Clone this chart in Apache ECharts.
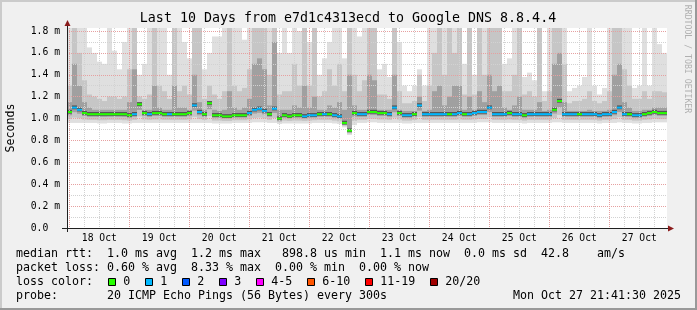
<!DOCTYPE html>
<html><head><meta charset="utf-8">
<script src="https://cdn.jsdelivr.net/npm/echarts@6/dist/echarts.min.js"></script>
<style>html,body{margin:0;padding:0;background:#f0f0f0;}#c{width:697px;height:310px;}</style>
</head><body><div id="c"></div>
<script>
// ---- data ----
const firstBinHour = -0.92;   // hours after 18 Oct 00:00 where the first 2-hour bin starts
const binHours = 2;
const dayLabels = ['18 Oct','19 Oct','20 Oct','21 Oct','22 Oct','23 Oct','24 Oct','25 Oct','26 Oct','27 Oct'];
const yTickLabels = ['0.0  ','0.2 m','0.4 m','0.6 m','0.8 m','1.0 m','1.2 m','1.4 m','1.6 m','1.8 m'];
// median rtt (ms) per bin
const median = [
1.06,1.10,1.08,1.05,1.04,1.04,1.04,1.04,1.04,1.04,
1.04,1.04,1.03,1.04,1.13,1.05,1.04,1.05,1.05,1.04,
1.04,1.04,1.04,1.04,1.05,1.12,1.06,1.04,1.14,1.03,
1.03,1.02,1.02,1.03,1.03,1.03,1.05,1.08,1.09,1.07,
1.04,1.09,1.00,1.03,1.02,1.03,1.03,1.02,1.03,1.03,
1.04,1.04,1.04,1.03,1.02,0.96,0.89,1.05,1.04,1.04,
1.06,1.06,1.05,1.05,1.04,1.10,1.05,1.03,1.03,1.04,
1.12,1.04,1.04,1.04,1.04,1.04,1.04,1.04,1.05,1.04,
1.04,1.05,1.06,1.06,1.10,1.04,1.04,1.04,1.05,1.04,
1.04,1.03,1.04,1.04,1.04,1.04,1.04,1.08,1.16,1.04,
1.04,1.04,1.04,1.04,1.04,1.04,1.03,1.04,1.04,1.06,
1.10,1.04,1.04,1.03,1.03,1.04,1.05,1.06,1.05,1.05];
// lost pings (of 20) per bin
const lossCount = [
0,1,1,0,0,0,0,0,0,0,
0,0,0,1,0,0,1,0,0,0,
1,0,0,0,0,1,1,0,0,0,
0,0,0,0,0,0,1,1,1,1,
0,1,0,0,0,0,0,1,1,1,
0,1,0,1,1,0,0,0,1,1,
0,0,0,0,1,1,0,1,1,0,
1,1,1,1,1,1,0,1,1,0,
1,1,1,1,1,1,1,1,0,1,
1,0,1,1,1,1,1,0,0,1,
1,1,0,1,1,1,1,1,1,1,
1,1,0,1,1,0,0,0,0,0];
// smoke: highest ping (ms)
const smokeTop = [
1.83,1.83,1.83,1.83,1.65,1.60,1.52,1.50,1.83,1.62,
1.45,1.70,1.83,1.83,1.40,1.50,1.83,1.83,1.83,1.83,
1.40,1.83,1.83,1.70,1.55,1.83,1.83,1.45,1.60,1.75,
1.75,1.83,1.83,1.83,1.83,1.72,1.83,1.83,1.83,1.83,
1.83,1.83,1.60,1.83,1.60,1.83,1.80,1.83,1.70,1.83,
1.40,1.55,1.70,1.83,1.83,1.55,1.83,1.83,1.75,1.83,
1.83,1.83,1.45,1.50,1.38,1.83,1.70,1.30,1.25,1.30,
1.45,1.30,1.83,1.83,1.83,1.83,1.83,1.83,1.83,1.50,
1.83,1.40,1.83,1.83,1.83,1.83,1.83,1.50,1.55,1.83,
1.83,1.38,1.42,1.35,1.83,1.25,1.83,1.83,1.83,1.83,
1.25,1.28,1.30,1.38,1.83,1.30,1.22,1.28,1.83,1.83,
1.83,1.83,1.83,1.28,1.30,1.83,1.30,1.83,1.68,1.60];
// smoke: upper edge of the middle shade
const smokeMid = [
1.30,1.83,1.60,1.35,1.22,1.20,1.18,1.16,1.20,1.20,
1.18,1.20,1.45,1.83,1.20,1.18,1.22,1.83,1.30,1.25,
1.18,1.83,1.25,1.30,1.22,1.83,1.83,1.18,1.30,1.22,
1.18,1.25,1.83,1.30,1.25,1.28,1.45,1.83,1.83,1.83,
1.40,1.83,1.22,1.25,1.25,1.50,1.30,1.83,1.30,1.83,
1.20,1.25,1.45,1.30,1.50,1.25,1.83,1.40,1.25,1.35,
1.83,1.83,1.22,1.22,1.18,1.83,1.25,1.14,1.14,1.16,
1.40,1.16,1.30,1.60,1.83,1.40,1.83,1.60,1.83,1.22,
1.83,1.22,1.83,1.40,1.83,1.83,1.83,1.25,1.25,1.40,
1.83,1.22,1.25,1.20,1.83,1.16,1.25,1.83,1.83,1.50,
1.14,1.16,1.16,1.18,1.25,1.16,1.14,1.16,1.25,1.83,
1.83,1.45,1.30,1.18,1.18,1.25,1.18,1.25,1.25,1.24];
// smoke: upper edge of the dark shade
const smokeDark = [
1.15,1.50,1.30,1.15,1.10,1.08,1.08,1.08,1.08,1.08,
1.08,1.08,1.15,1.45,1.15,1.08,1.08,1.30,1.10,1.08,
1.08,1.30,1.10,1.10,1.08,1.40,1.15,1.08,1.15,1.08,
1.07,1.08,1.25,1.10,1.08,1.10,1.18,1.50,1.55,1.45,
1.12,1.70,1.08,1.08,1.08,1.12,1.10,1.30,1.10,1.20,
1.08,1.08,1.12,1.10,1.15,1.08,1.40,1.12,1.08,1.08,
1.40,1.35,1.08,1.08,1.08,1.40,1.08,1.07,1.07,1.07,
1.20,1.07,1.08,1.25,1.30,1.12,1.20,1.30,1.30,1.08,
1.20,1.08,1.25,1.15,1.40,1.25,1.30,1.10,1.08,1.12,
1.20,1.08,1.08,1.08,1.15,1.07,1.08,1.50,1.60,1.15,
1.07,1.07,1.07,1.07,1.08,1.07,1.07,1.07,1.08,1.40,
1.50,1.15,1.10,1.07,1.07,1.08,1.08,1.10,1.10,1.10];
// smoke: lowest ping (ms)
const smokeLow = [
0.96,0.96,0.96,0.96,0.96,0.96,0.955,0.955,0.96,0.96,
0.96,0.955,0.955,0.96,0.96,0.96,0.96,0.96,0.96,0.96,
0.96,0.96,0.96,0.96,0.96,0.96,0.96,0.96,0.96,0.955,
0.955,0.955,0.955,0.96,0.96,0.96,0.96,0.965,0.965,0.965,
0.96,0.96,0.95,0.955,0.955,0.955,0.955,0.955,0.955,0.96,
0.96,0.96,0.96,0.955,0.95,0.92,0.85,0.94,0.96,0.96,
0.965,0.965,0.96,0.96,0.96,0.96,0.96,0.955,0.955,0.96,
0.96,0.96,0.96,0.96,0.96,0.96,0.96,0.96,0.96,0.96,
0.96,0.96,0.965,0.965,0.965,0.96,0.96,0.96,0.96,0.96,
0.96,0.955,0.96,0.96,0.96,0.96,0.96,0.965,0.965,0.96,
0.96,0.96,0.96,0.96,0.96,0.96,0.955,0.96,0.96,0.96,
0.965,0.96,0.96,0.955,0.955,0.96,0.96,0.965,0.965,0.965];
const lossColors = ['#26ff00','#00b8ff','#0059ff','#7e00ff','#ff00ff','#ff5500','#ff0000','#a00000'];
const lossLabels = ['0','1','2','3','4-5','6-10','11-19','20/20'];
const titleText = 'Last 10 Days from e7d1c4313ecd to Google DNS 8.8.4.4';
const legendRows = [
 'median rtt:  1.0 ms avg  1.2 ms max   898.8 us min  1.1 ms now  0.0 ms sd  42.8    am/s',
 'packet loss: 0.60 % avg  8.33 % max  0.00 % min  0.00 % now',
 'loss color:',
 'probe:       20 ICMP Echo Pings (56 Bytes) every 300s'
];
const stampText = 'Mon Oct 27 21:41:30 2025';
const yAxisName = 'Seconds';
const sideText = 'RRDTOOL / TOBI OETIKER';

// ---- build ----
const rows = median.map((m, i) => {
  const t0 = firstBinHour + i * binHours;
  return [t0, t0 + binHours, smokeLow[i], smokeTop[i], smokeMid[i], smokeDark[i], m, lossCount[i]];
});
const MONO = '"DejaVu Sans Mono", monospace';
const G = {left: 67, top: 28, width: 600, height: 200};
const YMAX = 1.8274;
const MAJOR = '#e6a0a0', MINOR = '#d2d2d2';

function band(api, t0, t1, a, b, color) {
  const p = api.coord([t0, b]);
  const q = api.coord([t1, a]);
  return {type: 'rect', shape: {x: p[0], y: p[1], width: q[0] - p[0], height: q[1] - p[1]}, style: {fill: color}};
}
function renderSmoke(params, api) {
  const t0 = api.value(0), t1 = api.value(1);
  const lo = api.value(2), top = api.value(3), mid = api.value(4), dark = api.value(5), med = api.value(6);
  const bLo = lo + (med - lo) * 0.35, cLo = lo + (med - lo) * 0.7;
  return {type: 'group', children: [
    band(api, t0, t1, lo, top, '#dfdfdf'),
    band(api, t0, t1, bLo, mid, '#c6c6c6'),
    band(api, t0, t1, cLo, dark, '#a0a0a0'),
    band(api, t0, t1, med - 0.015, med + 0.02, '#555555')
  ]};
}
function renderMedian(params, api) {
  const t0 = api.value(0), t1 = api.value(1), med = api.value(6), loss = api.value(7);
  const p = api.coord([t0, med]);
  const q = api.coord([t1, med]);
  return {type: 'rect', shape: {x: p[0], y: p[1] - 1, width: q[0] - p[0], height: 2}, style: {fill: lossColors[loss]}};
}

const graphics = [
  {type: 'rect', shape: {x: 0, y: 0, width: 697, height: 2}, style: {fill: '#cbcbcb'}},
  {type: 'rect', shape: {x: 0, y: 0, width: 2, height: 310}, style: {fill: '#cbcbcb'}},
  {type: 'rect', shape: {x: 0, y: 308, width: 697, height: 2}, style: {fill: '#999999'}},
  {type: 'rect', shape: {x: 695, y: 0, width: 2, height: 310}, style: {fill: '#999999'}},
  {type: 'text', x: 348, y: 19, style: {text: titleText, font: '13.3px ' + MONO, fill: '#000', align: 'center', verticalAlign: 'middle', textAlign: 'center', textVerticalAlign: 'middle'}},
  {type: 'text', x: 10.5, y: 128, rotation: Math.PI / 2, style: {text: yAxisName, font: '11.6px ' + MONO, fill: '#000', align: 'center', verticalAlign: 'middle', textAlign: 'center', textVerticalAlign: 'middle'}},
  {type: 'text', x: 687.5, y: 59, rotation: -Math.PI / 2, style: {text: sideText, font: '8.2px ' + MONO, fill: '#b0b0b0', align: 'center', verticalAlign: 'middle', textAlign: 'center', textVerticalAlign: 'middle'}},
  // axis extensions and arrows (rrdtool style)
  {type: 'line', shape: {x1: 67.5, y1: 22, x2: 67.5, y2: 232}, style: {stroke: '#202020', lineWidth: 1}, z: 20},
  {type: 'line', shape: {x1: 62, y1: 228.5, x2: 671, y2: 228.5}, style: {stroke: '#202020', lineWidth: 1}, z: 20},
  {type: 'polygon', shape: {points: [[64.5, 26], [70.5, 26], [67.5, 20]]}, style: {fill: '#8b1c1c'}, z: 21},
  {type: 'polygon', shape: {points: [[668, 225.5], [668, 231.5], [674, 228.5]]}, style: {fill: '#8b1c1c'}, z: 21}
];
const rowY = [254.3, 268.3, 282.3, 295.7];
legendRows.forEach((txt, i) => {
  graphics.push({type: 'text', x: 16, y: rowY[i], style: {text: txt, font: '11.63px ' + MONO, fill: '#000', verticalAlign: 'middle', textVerticalAlign: 'middle'}});
});
graphics.push({type: 'text', x: 681, y: rowY[3], style: {text: stampText, font: '11.63px ' + MONO, fill: '#000', align: 'right', textAlign: 'right', verticalAlign: 'middle', textVerticalAlign: 'middle'}});
let sx = 108.3;
lossLabels.forEach((lab, i) => {
  graphics.push({type: 'rect', shape: {x: Math.round(sx) + 0.5, y: 278.5, width: 7, height: 7}, style: {fill: lossColors[i], stroke: '#000', lineWidth: 1}});
  graphics.push({type: 'text', x: sx + 15, y: rowY[2], style: {text: lab, font: '11.63px ' + MONO, fill: '#000', verticalAlign: 'middle', textVerticalAlign: 'middle'}});
  sx += 30 + 7 * lab.length;
});

const chart = echarts.init(document.getElementById('c'), null, {renderer: 'canvas'});
chart.setOption({
  animation: false,
  backgroundColor: '#f0f0f0',
  grid: [
    {left: G.left, top: G.top, width: G.width, height: G.height, show: true, backgroundColor: '#ffffff', borderWidth: 0, containLabel: false},
    {left: G.left + 2.3, top: G.top, width: G.width - 2.3, height: G.height, show: false, containLabel: false}
  ],
  xAxis: [
    {gridIndex: 0, type: 'value', min: firstBinHour, max: firstBinHour + 120 * binHours, axisLine: {show: false}, axisTick: {show: false}, axisLabel: {show: false}, splitLine: {show: false}},
    {gridIndex: 1, type: 'value', min: 0, max: firstBinHour + 120 * binHours, interval: 6, z: 5,
      axisLine: {show: false}, axisTick: {show: false},
      axisLabel: {show: true, margin: 5, color: '#000', fontFamily: MONO, fontSize: 9.7,
        formatter: v => (Math.round(v) % 24 === 12 ? dayLabels[(Math.round(v) - 12) / 24] : '')},
      splitLine: {show: true, showMaxLine: false, lineStyle: {color: [MAJOR, MINOR, MINOR, MINOR], width: 1, type: [1, 1]}}}
  ],
  yAxis: [
    {gridIndex: 0, type: 'value', min: 0, max: YMAX, interval: 0.1, z: 5,
      axisLine: {show: false}, axisTick: {show: false},
      axisLabel: {show: true, margin: 7, color: '#000', fontFamily: MONO, fontSize: 9.75,
        formatter: v => { const k = Math.round(v * 10); return k % 2 === 0 ? yTickLabels[k / 2] : ''; }},
      splitLine: {show: true, showMaxLine: false, lineStyle: {color: [MAJOR, MINOR], width: 1, type: [1, 1]}}},
    {gridIndex: 1, type: 'value', min: 0, max: YMAX, show: false}
  ],
  series: [
    {type: 'custom', name: 'smoke', xAxisIndex: 0, yAxisIndex: 0, data: rows, renderItem: renderSmoke, clip: true, z: 2, silent: true,
      encode: {x: [0, 1], y: [2, 3]}},
    {type: 'custom', name: 'median', xAxisIndex: 0, yAxisIndex: 0, data: rows, renderItem: renderMedian, clip: true, z: 8, silent: true,
      encode: {x: [0, 1], y: 6}}
  ],
  graphic: graphics
});
</script></body></html>
